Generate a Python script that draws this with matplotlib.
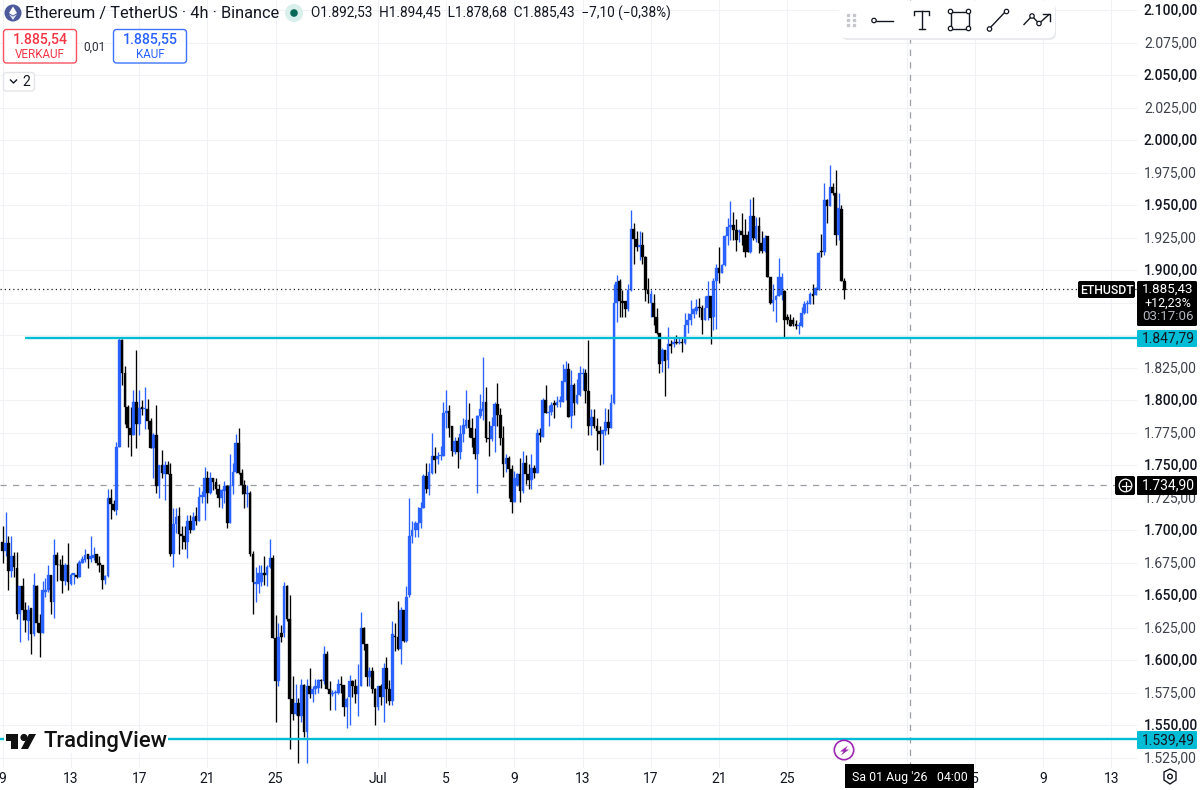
import numpy as np
import matplotlib
matplotlib.use("Agg")
import matplotlib.pyplot as plt
from matplotlib.patches import Circle, FancyBboxPatch, Polygon, Rectangle
from matplotlib.transforms import ScaledTranslation

plt.rcParams['font.family'] = ['Roboto', 'DejaVu Sans']

# 4h candles, index 0 = 9 Jun 00:00
opens = [1691,1684,1690,1669,1680,1671,1636,1657,1639,1630,
         1640,1620,1657,1629,1621,1653,1654,1666,1645,1681,
         1673,1673,1661,1673,1659,1666,1666,1664,1675,1677,
         1682,1678,1679,1682,1675,1673,1662,1665,1725,1720,
         1716,1764,1846,1821,1795,1779,1773,1799,1782,1795,
         1793,1793,1784,1763,1773,1734,1750,1743,1750,1743,
         1682,1705,1711,1697,1696,1691,1707,1700,1711,1707,
         1726,1726,1740,1729,1740,1737,1732,1725,1730,1734,
         1706,1734,1745,1767,1744,1735,1728,1729,1682,1659,
         1659,1660,1667,1666,1672,1679,1617,1584,1621,1621,
         1657,1632,1570,1559,1567,1557,1581,1545,1580,1574,
         1578,1579,1585,1584,1605,1578,1574,1575,1575,1582,
         1581,1564,1572,1584,1580,1574,1580,1625,1613,1587,
         1592,1578,1564,1580,1572,1594,1578,1569,1619,1618,
         1609,1639,1615,1650,1696,1700,1700,1706,1717,1742,
         1732,1744,1757,1755,1757,1757,1790,1792,1780,1760,
         1769,1760,1774,1780,1785,1779,1771,1759,1788,1792,
         1799,1771,1770,1780,1797,1789,1771,1751,1756,1747,
         1722,1735,1743,1730,1752,1743,1739,1748,1744,1775,
         1772,1800,1790,1791,1798,1796,1799,1799,1814,1824,
         1788,1812,1798,1804,1820,1821,1807,1780,1787,1780,
         1776,1774,1776,1783,1779,1798,1875,1892,1876,1876,
         1870,1885,1932,1924,1918,1919,1910,1885,1875,1875,
         1864,1852,1830,1839,1831,1843,1843,1845,1844,1845,
         1844,1858,1862,1866,1869,1872,1871,1862,1871,1880,
         1864,1892,1902,1898,1904,1926,1933,1935,1931,1929,
         1930,1927,1927,1914,1942,1924,1934,1921,1915,1926,
         1895,1875,1877,1880,1881,1884,1864,1862,1862,1859,
         1857,1857,1867,1874,1874,1882,1881,1885,1915,1914,
         1954,1949,1964,1959,1927,1947,1892]
highs = [1703,1714,1696,1696,1683,1683,1657,1663,1645,1643,
         1640,1667,1658,1636,1661,1663,1673,1666,1693,1683,
         1678,1681,1675,1690,1667,1667,1675,1677,1680,1686,
         1682,1696,1687,1682,1680,1673,1666,1732,1732,1723,
         1768,1849,1847,1826,1796,1795,1808,1839,1808,1800,
         1810,1801,1786,1775,1796,1750,1762,1753,1753,1752,
         1717,1717,1718,1703,1703,1712,1712,1714,1718,1733,
         1730,1749,1746,1745,1740,1740,1736,1732,1738,1735,
         1759,1752,1774,1779,1747,1739,1735,1730,1684,1672,
         1673,1673,1680,1673,1693,1681,1635,1629,1627,1660,
         1658,1650,1588,1582,1571,1586,1582,1586,1594,1580,
         1586,1586,1586,1611,1607,1584,1577,1577,1586,1588,
         1581,1572,1589,1585,1586,1597,1637,1626,1613,1595,
         1595,1579,1580,1582,1598,1603,1585,1630,1629,1646,
         1641,1639,1657,1725,1707,1707,1718,1722,1743,1752,
         1752,1775,1764,1760,1765,1799,1808,1796,1780,1772,
         1772,1781,1786,1808,1798,1786,1779,1789,1805,1833,
         1810,1784,1787,1799,1813,1794,1780,1759,1757,1750,
         1746,1744,1756,1761,1758,1751,1759,1750,1778,1779,
         1802,1812,1796,1799,1800,1803,1803,1828,1830,1829,
         1823,1813,1816,1826,1825,1824,1846,1793,1793,1786,
         1780,1777,1794,1793,1805,1889,1896,1893,1885,1876,
         1889,1946,1936,1930,1930,1929,1911,1894,1885,1882,
         1871,1852,1840,1839,1856,1846,1848,1850,1849,1849,
         1867,1867,1877,1871,1878,1879,1873,1880,1892,1880,
         1894,1905,1918,1905,1927,1940,1953,1945,1939,1932,
         1944,1939,1930,1955,1956,1941,1941,1930,1927,1926,
         1895,1889,1881,1909,1898,1885,1866,1866,1864,1862,
         1860,1872,1876,1877,1883,1889,1887,1914,1928,1967,
         1955,1981,1967,1977,1959,1950,1894]
lows = [1675,1680,1654,1664,1664,1632,1614,1631,1622,1616,
        1605,1619,1622,1603,1621,1649,1653,1636,1633,1661,
        1662,1652,1658,1654,1658,1659,1663,1664,1675,1676,
        1671,1676,1677,1673,1668,1655,1659,1664,1709,1715,
        1712,1764,1812,1782,1764,1757,1773,1763,1773,1789,
        1778,1778,1763,1740,1729,1725,1740,1723,1743,1680,
        1672,1698,1682,1686,1686,1679,1698,1700,1704,1707,
        1721,1708,1721,1728,1731,1728,1718,1717,1721,1702,
        1706,1728,1744,1743,1728,1717,1718,1680,1636,1645,
        1652,1657,1658,1657,1671,1617,1553,1580,1614,1618,
        1630,1532,1554,1558,1521,1553,1541,1521,1571,1568,
        1574,1575,1579,1582,1578,1562,1573,1562,1574,1575,
        1557,1548,1550,1572,1567,1557,1580,1608,1580,1580,
        1575,1550,1562,1566,1553,1567,1566,1566,1607,1608,
        1597,1614,1614,1649,1690,1695,1695,1702,1717,1729,
        1727,1743,1744,1751,1754,1757,1779,1772,1757,1759,
        1748,1755,1768,1779,1772,1764,1755,1729,1786,1785,
        1768,1757,1769,1760,1780,1766,1741,1745,1725,1713,
        1722,1734,1722,1729,1736,1732,1732,1740,1744,1768,
        1772,1790,1780,1789,1786,1795,1795,1799,1800,1787,
        1779,1789,1797,1803,1808,1798,1773,1773,1779,1762,
        1750,1751,1773,1774,1779,1797,1860,1864,1864,1864,
        1869,1884,1905,1915,1908,1905,1876,1875,1864,1858,
        1851,1821,1822,1803,1825,1836,1841,1843,1843,1837,
        1843,1852,1858,1863,1866,1864,1851,1862,1862,1843,
        1854,1855,1890,1898,1903,1919,1923,1923,1915,1922,
        1919,1910,1914,1913,1923,1922,1913,1913,1914,1895,
        1874,1869,1860,1880,1877,1848,1859,1857,1857,1855,
        1851,1856,1866,1867,1874,1874,1881,1885,1910,1912,
        1936,1949,1958,1919,1923,1892,1878]
closes = [1684,1690,1669,1680,1672,1636,1657,1639,1631,1639,
          1620,1658,1629,1621,1654,1654,1666,1645,1681,1673,
          1673,1661,1673,1660,1666,1667,1664,1676,1678,1681,
          1678,1680,1681,1675,1673,1662,1665,1725,1720,1716,
          1764,1846,1821,1795,1779,1773,1799,1782,1794,1793,
          1794,1784,1763,1773,1734,1750,1744,1750,1743,1682,
          1705,1710,1697,1696,1691,1707,1700,1710,1707,1726,
          1727,1740,1729,1740,1737,1732,1725,1731,1734,1706,
          1734,1745,1767,1744,1735,1728,1729,1682,1660,1660,
          1667,1667,1666,1672,1679,1617,1584,1618,1618,1657,
          1632,1570,1559,1567,1557,1581,1545,1580,1574,1578,
          1580,1585,1584,1605,1578,1574,1575,1576,1582,1581,
          1564,1570,1584,1580,1574,1580,1625,1613,1587,1592,
          1578,1564,1580,1572,1594,1578,1569,1620,1618,1609,
          1639,1615,1649,1696,1700,1706,1706,1717,1742,1732,
          1745,1757,1754,1757,1758,1790,1792,1779,1761,1769,
          1760,1774,1781,1785,1779,1771,1759,1788,1793,1799,
          1771,1770,1780,1797,1789,1771,1751,1756,1747,1722,
          1740,1743,1730,1752,1743,1739,1748,1744,1775,1773,
          1800,1790,1791,1796,1796,1799,1800,1815,1824,1787,
          1812,1798,1804,1821,1821,1807,1780,1787,1780,1776,
          1774,1777,1783,1779,1798,1875,1891,1876,1875,1870,
          1885,1932,1924,1918,1919,1910,1885,1882,1882,1864,
          1852,1828,1839,1830,1843,1842,1845,1844,1845,1844,
          1858,1862,1866,1870,1872,1871,1862,1871,1880,1863,
          1892,1902,1898,1904,1926,1933,1935,1931,1923,1930,
          1927,1914,1914,1942,1925,1934,1921,1915,1925,1895,
          1875,1877,1880,1895,1895,1862,1862,1857,1859,1857,
          1858,1867,1874,1875,1882,1880,1886,1913,1914,1954,
          1949,1964,1959,1927,1948,1892,1885]

price_ticks = [1525,1550,1575,1600,1625,1650,1675,1700,1725,1750,1775,1800,1825,
               1850,1875,1900,1925,1950,1975,2000,2025,2050,2075,2100]
hidden_ticks = [1850, 1875]  # grid only, their labels sit under the price tags
date_ticks = [0,24,48,72,96,132,156,180,204,228,252,276,318,342,366,390]
date_labels = ['9','13','17','21','25','Jul','5','9','13','17','21','25','','5','9','13']

level_upper = 1847.79
level_lower = 1539.49
level_start = 8   # upper line starts here, candle index
last_price = 1885.43
cross_price = 1734.90
cross_index = 319

BLUE = '#2962ff'
BLACK = '#000000'
CYAN = '#00bcd4'
INK = '#131722'
RED = '#f23645'


def de_num(v):
    return f"{v:,.2f}".replace(',', '_').replace('.', ',').replace('_', '.')


fig = plt.figure(figsize=(12, 7.9), dpi=100)
ax = fig.add_axes([0, 22 / 790, 1137 / 1200, 768 / 790])
ax.set_xlim(-0.95, 399.0)
ax.set_ylim(1517.33, 2107.69)
for s in ax.spines.values():
    s.set_visible(False)

ax.set_yticks(price_ticks)
ax.set_yticklabels(['' if p in hidden_ticks else de_num(p) for p in price_ticks])
ax.yaxis.tick_right()
ax.set_xticks(date_ticks)
ax.set_xticklabels(date_labels)
ax.tick_params(axis='both', length=0, labelsize=10, labelcolor=INK)
ax.tick_params(axis='y', pad=5)
ax.tick_params(axis='x', pad=3)
nudge = ScaledTranslation(0, 1 / 100, fig.dpi_scale_trans)
for lab, p in zip(ax.get_yticklabels(), price_ticks):
    lab.set_color(INK if p % 50 == 0 else '#3d414c')
    lab.set_fontweight('medium' if p % 50 == 0 else 'normal')
    lab.set_transform(lab.get_transform() + nudge)
ax.grid(True, color='#f1f2f5', lw=0.8)
ax.set_axisbelow(True)

# candles
x = np.arange(len(opens))
o, h, l, c = map(np.array, (opens, highs, lows, closes))
colors = [BLUE if cl > op else BLACK for op, cl in zip(opens, closes)]
ax.vlines(x, l, h, colors=colors, lw=0.95, zorder=3)
ax.bar(x, np.abs(c - o), bottom=np.minimum(o, c), width=0.95, color=colors,
       edgecolor=colors, lw=0.25, zorder=4)

# levels and crosshair
ax.axhline(last_price, color='#222222', lw=0.9, ls=(0, (1, 2.4)), zorder=5)
ax.axhline(cross_price, color='#9a9da5', lw=0.9, ls=(0, (5, 5)), zorder=2)
ax.axvline(cross_index, color='#9a9da5', lw=0.9, ls=(0, (5, 5)), zorder=2)
ax.hlines(level_upper, level_start, 399, color=CYAN, lw=1.7, zorder=5)
ax.axhline(level_lower, color=CYAN, lw=1.7, zorder=5)

# everything on top is drawn in pixel coordinates
ui = fig.add_axes([0, 0, 1, 1], zorder=10)
ui.set_xlim(0, 1200)
ui.set_ylim(790, 0)
ui.axis('off')
ui.patch.set_alpha(0)


def box(x0, y0, x1, y1, fc='white', ec='none', r=3, lw=1.0, z=5):
    p = FancyBboxPatch((x0, y0), x1 - x0, y1 - y0, boxstyle=f"round,pad=0,rounding_size={r}",
                       fc=fc, ec=ec, lw=lw, zorder=z)
    ui.add_patch(p)


def label(x, y, s, size=10, color=INK, ha='center', weight='normal', z=8):
    ui.text(x, y, s, fontsize=size, color=color, ha=ha, va='center', fontweight=weight, zorder=z)


# header
ui.add_patch(Circle((13, 13), 8.5, fc='#4c5a9b', ec='none', zorder=6))
ui.add_patch(Polygon([(13, 6.5), (17, 13), (13, 15.5), (9, 13)], fc='white', zorder=7))
ui.add_patch(Polygon([(13, 16.5), (17, 14.3), (13, 20), (9, 14.3)], fc='#dfe3f3', zorder=7))
label(25, 13.5, 'Ethereum / TetherUS · 4h · Binance', size=11.8, ha='left')
ui.add_patch(Circle((294, 13), 9, fc='#d8efeb', ec='none', zorder=6))
ui.add_patch(Circle((294, 13), 3.8, fc='#07685a', ec='none', zorder=7))
label(311, 13.5, 'O1.892,53  H1.894,45  L1.878,68  C1.885,43  −7,10 (−0,38%)', size=9.8, ha='left')

box(3.5, 29.5, 76.5, 63, ec='#f7525f')
label(40, 40, '1.885,54', size=10.2, color=RED, weight='medium')
label(40, 54, 'VERKAUF', size=8.4, color=RED)
label(94, 47, '0,01', size=8.6, color='#2a2e39')
box(113.5, 29.5, 186.5, 63, ec='#3d74ff')
label(150, 40, '1.885,55', size=10.2, color=BLUE, weight='medium')
label(150, 54, 'KAUF', size=8.4, color=BLUE)
box(3.5, 72.5, 34.5, 91, ec='#e3e5ea')
ui.plot([10.5, 13.5, 16.5], [80, 83, 80], color=INK, lw=1.0, zorder=8)
label(26, 81.5, '2', size=10)

# drawing toolbar
box(841, 3, 1056, 40, fc='#e9eaee', r=7, z=4)
box(839, 1, 1055, 38, fc='white', r=7, z=5)
for dx in (848, 854):
    for dy in (15, 20, 25):
        ui.plot(dx, dy, 's', ms=1.5, color='#c5c7cd', zorder=8)
ui.plot([876, 893], [20.5, 20.5], color=INK, lw=1, zorder=8)
ui.add_patch(Circle((874, 20.5), 2.2, fc='white', ec=INK, lw=0.9, zorder=9))
ui.plot([914, 914, 929, 929], [15, 11, 11, 15], color=INK, lw=1, zorder=8)
ui.plot([921.5, 921.5], [11, 29], color=INK, lw=1, zorder=8)
ui.plot([918.5, 924.5], [29, 29], color=INK, lw=1, zorder=8)
ui.add_patch(Rectangle((950.5, 11.5), 18, 17, fc='none', ec=INK, lw=1, zorder=8))
for cx, cy in ((950.5, 11.5), (968.5, 11.5), (950.5, 28.5), (968.5, 28.5)):
    ui.add_patch(Circle((cx, cy), 2.2, fc='white', ec=INK, lw=0.9, zorder=9))
ui.plot([989, 1006], [29, 11], color=INK, lw=1, zorder=8)
for cx, cy in ((989.5, 29), (1006.5, 11.5)):
    ui.add_patch(Circle((cx, cy), 2.2, fc='white', ec=INK, lw=0.9, zorder=9))
ui.plot([1024, 1032, 1039, 1049], [24.5, 16, 23.5, 14.5], color=INK, lw=1, zorder=8)
ui.plot([1043, 1049.5, 1049.5], [14, 14, 21], color=INK, lw=1, zorder=8)
for cx, cy in ((1032, 16), (1039, 23.5)):
    ui.add_patch(Circle((cx, cy), 2.2, fc='white', ec=INK, lw=0.9, zorder=9))

# price tags
box(1078, 281, 1135, 298, fc='black', r=2)
label(1106.5, 290, 'ETHUSDT', size=8.8, color='white', weight='medium')
box(1137, 281, 1197, 326, fc='black', r=1.5)
label(1168, 289.5, '1.885,43', size=9.6, color='white')
label(1168, 303.5, '+12,23%', size=9.0, color='white')
label(1168, 317, '03:17:06', size=9.6, color='#b2b5be')
box(1137, 330, 1197, 347, fc=CYAN, r=1)
label(1168, 338.5, '1.847,79', size=10, color=INK)
box(1115, 476, 1135, 495, fc='black', r=2)
ui.add_patch(Circle((1125.5, 485.5), 6.3, fc='none', ec='white', lw=0.9, zorder=8))
ui.plot([1125.5, 1125.5], [481.5, 489.5], color='white', lw=0.9, zorder=8)
ui.plot([1121.5, 1129.5], [485.5, 485.5], color='white', lw=0.9, zorder=8)
box(1137, 476, 1197, 495, fc='black', r=1)
label(1168, 485.5, '1.734,90', size=10, color='white')
box(1137, 731, 1197, 749, fc=CYAN, r=1)
label(1168, 740, '1.539,49', size=10, color=INK)

# date tooltip, alert bolt, settings icon
ui.add_patch(Rectangle((845, 764), 129, 24, fc='black', ec='none', zorder=5))
label(910, 778, "Sa 01 Aug '26   04:00", size=8.9, color='white')
ui.add_patch(Circle((844, 750), 9.7, fc='white', ec='#9c27b0', lw=1.2, zorder=6))
ui.add_patch(Polygon([(848, 745.5), (840, 751.5), (843.5, 751.5), (841, 755.5), (849, 749.5), (845.5, 749.5)],
                     fc='#9c27b0', ec='none', zorder=7))
ui.add_patch(Polygon([(1164, 772), (1170, 769), (1176, 772), (1176, 780), (1170, 784), (1164, 780)],
                     fc='white', ec=INK, lw=1, zorder=6))
ui.add_patch(Circle((1170, 776.5), 2.3, fc='white', ec=INK, lw=1, zorder=7))

# TradingView mark
ui.add_patch(Rectangle((4, 731), 164, 22, fc='white', ec='none', zorder=4))
ui.add_patch(Polygon([(6, 734), (18, 734), (18, 749), (11, 749), (11, 741), (6, 741)], fc='#111111', zorder=6))
ui.add_patch(Circle((24, 737.5), 3.6, fc='#111111', ec='none', zorder=6))
ui.add_patch(Polygon([(29, 734), (36, 734), (28, 749), (21, 749)], fc='#111111', zorder=6))
label(44, 742, 'TradingView', size=15.8, color='#111111', ha='left', weight='medium')

fig.savefig('out.png', dpi=100)
